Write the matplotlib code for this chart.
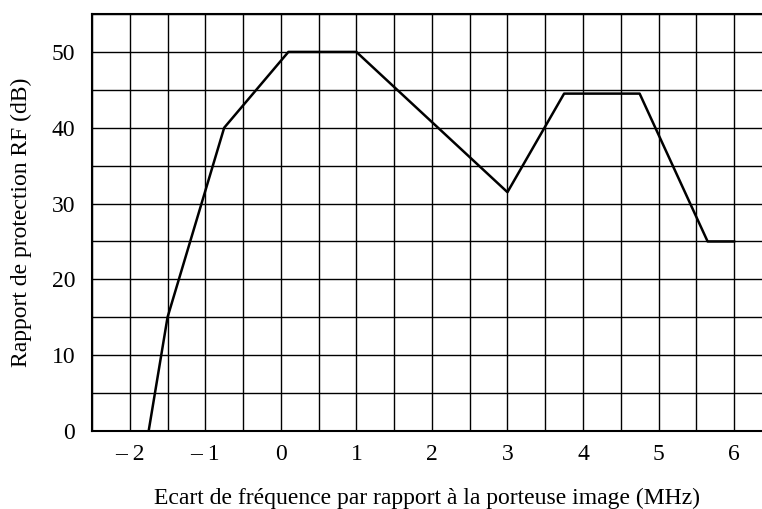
import matplotlib
matplotlib.use("Agg")
import matplotlib.pyplot as plt
import numpy as np

# courbe de protection (MHz, dB)
freq = [-1.75, -1.5, -0.75, 0.1, 1.0, 3.0, 3.75, 4.75, 5.65, 6.0]
protection = [0, 15, 40, 50, 50, 31.5, 44.5, 44.5, 25, 25]

xticks = [-2, -1, 0, 1, 2, 3, 4, 5, 6]
xticklabels = ["\u2013 2", "\u2013 1", "0", "1", "2", "3", "4", "5", "6"]
yticks = [0, 10, 20, 30, 40, 50]

plt.rcParams['font.family'] = ['Liberation Serif', 'DejaVu Serif']

fig = plt.figure(figsize=(7.62, 5.09), dpi=100)
ax = fig.add_axes([92/762, 1 - 431/509, 1 - 92/762, (431-14)/509])

ax.plot(freq, protection, color='black', lw=1.8)

ax.set_xlim(-2.5, 6.37)
ax.set_ylim(0, 55)
ax.set_xticks(xticks)
ax.set_xticklabels(xticklabels)
ax.set_yticks(yticks)
ax.set_xticks(np.arange(-2.5, 6.5, 0.5), minor=True)
ax.set_yticks(np.arange(0, 56, 5), minor=True)
ax.grid(which='both', color='black', lw=1.0)
ax.tick_params(which='both', length=0, labelsize=17)
ax.tick_params(axis='x', pad=9)
ax.tick_params(axis='y', pad=12)
for s in ['left', 'bottom', 'top']:
    ax.spines[s].set_linewidth(1.5)
ax.spines['right'].set_visible(False)

ax.set_xlabel("Ecart de fréquence par rapport à la porteuse image (MHz)", fontsize=17, labelpad=17)
ax.set_ylabel("Rapport de protection RF (dB)", fontsize=17, labelpad=14)

fig.savefig("out.png", dpi=100)
